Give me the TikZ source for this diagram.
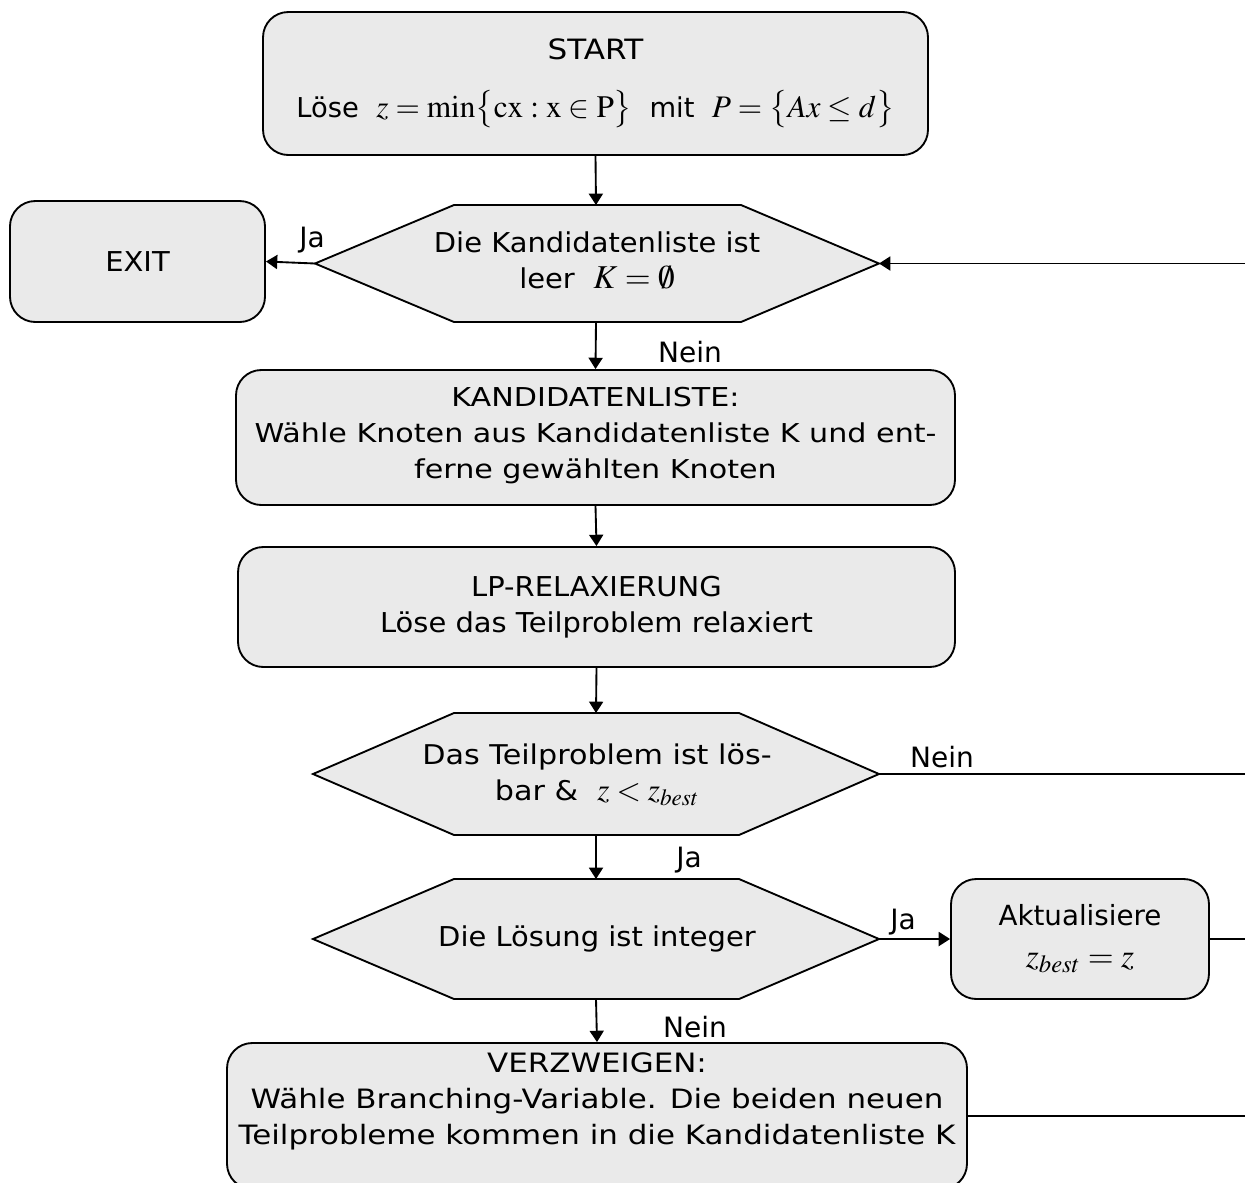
\documentclass[tikz,border=0pt]{standalone}
\usepackage{mathptmx}
\usepackage[no-math]{fontspec}
\setmainfont{DejaVu Sans}
\newfontfamily\fA{DejaVu Sans}[FakeStretch=1.06]
\newfontfamily\fB{DejaVu Sans}[FakeStretch=1.11]
\newfontfamily\fC{DejaVu Sans}[FakeStretch=1.16]
\usetikzlibrary{arrows.meta}
\definecolor{boxgray}{RGB}{234,234,234}
\newcommand\fs[1]{\fontsize{#1}{27}\selectfont}
\begin{document}
\begin{tikzpicture}[x=0.75pt,y=-0.75pt,
  font=\fA\fs{20.5},
  rbox/.style={draw=black, fill=boxgray, line width=1.4pt, rounded corners=19pt, inner sep=0pt, align=center},
  hexa/.style={draw=black, fill=boxgray, line width=1.4pt, line join=miter},
  txt/.style={inner sep=0pt, align=center},
  lbl/.style={inner sep=0pt, font=\fs{21}},
  conn/.style={line width=1.4pt, -{Triangle[length=8.5pt,width=10.5pt]}},
  plain/.style={line width=1.4pt}]
\useasboundingbox (0,0) rectangle (1245,1182);
\clip (0,0) rectangle (1245,1182);

% boxes
\node[rbox, minimum width={665*0.75pt}, minimum height={143*0.75pt}] (start) at (595.5,83.5)
  {{\fB\fs{21}START}\\[16pt]{\rmfamily\fs{20.5}Löse~~{\fs{23.5}$z=\min\bigl\{\mathrm{cx}:\mathrm{x}\in\mathrm{P}\bigr\}$}~~mit~~{\fs{23.5}$P=\bigl\{Ax\le d\bigr\}$}}};
\node[rbox, minimum width={255*0.75pt}, minimum height={121*0.75pt}] (exit) at (137.5,261.5) {EXIT};
\node[rbox, font=\fC\fs{19.5}, minimum width={719*0.75pt}, minimum height={135*0.75pt}] (kand) at (595.5,437.5)
  {KANDIDATENLISTE:\\Wähle Knoten aus Kandidatenliste K und ent-\\ferne gewählten Knoten\rule[-7.5pt]{0pt}{0pt}};
\node[rbox, minimum width={717*0.75pt}, minimum height={120*0.75pt}] (lp) at (596.5,607)
  {LP-RELAXIERUNG\\Löse das Teilproblem relaxiert};
\node[rbox, font=\rmfamily\fs{20.8}, minimum width={258*0.75pt}, minimum height={120*0.75pt}] (akt) at (1080,939)
  {Aktualisiere\\[4pt]{\fs{25}$z_{best}=z$}};
\node[rbox, minimum width={740*0.75pt}, minimum height={146*0.75pt}] (verz) at (597,1116) {};
\node[txt, font=\fC\fs{20}] (verzt) at (597,1101)
  {VERZWEIGEN:\\Wähle Branching-Variable. Die beiden neuen\\Teilprobleme kommen in die Kandidatenliste K};

% hexagons
\draw[hexa] (315,263.5) coordinate (h1w) -- (454,205) -- (741,205) -- (879,263.5) coordinate (h1e)
  -- (741,322) -- (454,322) -- cycle;
\coordinate (h1n) at (596,205); \coordinate (h1s) at (596,322);
\node[txt] (h1t) at (597,260) {Die Kandidatenliste ist\\leer~~{\fs{25}$K=\emptyset$}};

\draw[hexa] (313,774) coordinate (h2w) -- (454,713) -- (739,713) -- (879,774) coordinate (h2e)
  -- (739,835) -- (454,835) -- cycle;
\coordinate (h2n) at (596,713); \coordinate (h2s) at (596,835);
\node[txt, font=\fB\fs{20.4}] (h2t) at (597,775) {Das Teilproblem ist lös-\\bar \&~~{\fs{23.5}$z<z_{best}$}};

\draw[hexa] (313,939) coordinate (h3w) -- (454,879) -- (739,879) -- (879,939) coordinate (h3e)
  -- (739,999) -- (454,999) -- cycle;
\coordinate (h3n) at (596,879); \coordinate (h3s) at (596,999);
\node[txt] (h3t) at (597,939) {Die Lösung ist integer};

% right edge coordinates
\coordinate (r1) at (1245,263.5);
\coordinate (r2) at (1245,774);
\coordinate (r3) at (1245,939);
\coordinate (r4) at (1245,1116);

% connectors
\draw[conn] (start.south) -- (h1n);
\draw[conn] (h1w) -- (exit.east);
\draw[conn] (r1) -- (h1e);
\draw[conn] (h1s) -- (kand.north);
\draw[conn] (kand.south) -- (lp.north);
\draw[conn] (lp.south) -- (h2n);
\draw[plain] (h2e) -- (r2);
\draw[conn] (h2s) -- (h3n);
\draw[conn] (h3e) -- (akt.west);
\draw[plain] (akt.east) -- (r3);
\draw[conn] (h3s) -- (verz.north);
\draw[plain] (verz.east) -- (r4);

% labels
\node[lbl] (l1) at (312,240) {Ja};
\node[lbl] (l2) at (690,352) {Nein};
\node[lbl] (l3) at (942,757) {Nein};
\node[lbl] (l4) at (689,860) {Ja};
\node[lbl] (l5) at (903,922) {Ja};
\node[lbl] (l6) at (695,1027) {Nein};
\end{tikzpicture}
\end{document}
